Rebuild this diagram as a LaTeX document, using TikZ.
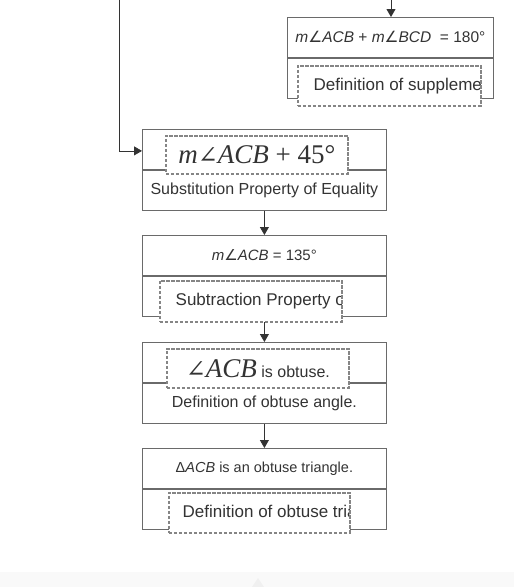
\documentclass[tikz,border=0pt]{standalone}
\usepackage{fontspec}
\setmainfont{Liberation Sans}
\newfontfamily\timesfont{Liberation Serif}
\newfontfamily\anglesans{DejaVu Sans}
\newfontfamily\angleserif{DejaVu Serif}
\usetikzlibrary{arrows.meta,positioning}

\definecolor{boxgray}{HTML}{6A6A6A}
\definecolor{txtgray}{HTML}{333333}
\definecolor{dashgray}{HTML}{858585}

\tikzset{
  row/.style = {draw=boxgray, line width=0.8pt, rectangle, inner sep=0pt,
    minimum width=244pt, minimum height=40pt, text=txtgray, align=center},
  stmt/.style = {row, anchor=north west, font=\fontsize{14.5}{17}\selectfont},
  reason/.style = {row, below=0pt of #1, font=\fontsize{16}{19}\selectfont},
  hole/.style = {draw=dashgray, line width=1.7pt, dash pattern=on 3.5pt off 1.5pt,
    fill=white, inner sep=0pt, anchor=north west, text=txtgray, align=center},
  holetext/.style = {draw=none, fill=none, solid, anchor=west, inner sep=0pt,
    minimum size=0pt, text=txtgray, font=\fontsize{17}{20}\selectfont},
  cut/.style = {path picture={\node[holetext] at ([xshift=#1]path picture bounding box.west) {\cuttext};}},
  link/.style = {draw=txtgray, line width=0.8pt, -{Triangle[length=8pt,width=9pt]}}
}
\newcommand{\cuttext}{}
\newcommand{\ang}{{\anglesans\upshape ∠}}
\newcommand{\bigserif}[1]{{\timesfont\fontsize{27}{30}\selectfont #1}}
\newcommand{\bigang}{{\angleserif\upshape\fontsize{24}{30}\selectfont ∠}}

\begin{document}
\begin{tikzpicture}[x=1pt,y=-1pt]
\useasboundingbox (0,0) rectangle (514,587);
\fill[gray!5] (0,572) rectangle (514,587);
\fill[gray!12] (252,587) -- (258,578) -- (264,587) -- cycle;

% proof steps
\node[stmt, minimum width=206pt, font=\fontsize{15.5}{18}\selectfont] (supp1) at (287,17)
  {\itshape m\ang ACB\upshape{} + \itshape m\ang BCD\upshape{}\ \ = 180°};
\node[reason=supp1, minimum width=206pt] (supp2) {};
\node[stmt] (subst1) at (142,129) {};
\node[reason=subst1] (subst2) {Substitution Property of Equality};
\node[stmt, font=\fontsize{15}{18}\selectfont] (diff1) at (142,235) {\itshape m\ang ACB\upshape{} = 135°};
\node[reason=diff1] (diff2) {};
\node[stmt] (obt1) at (142,342) {};
\node[reason=obt1] (obt2) {Definition of obtuse angle.};
\node[stmt] (tri1) at (142,448) {Δ\itshape ACB\upshape{} is an obtuse triangle.};
\node[reason=tri1] (tri2) {};

% arrows
\coordinate (fromtop) at (391,0);
\coordinate (fromleft) at (119,0);
\draw[link] (fromtop) -- (fromtop |- supp1.north);
\draw[link] (fromleft) |- ([yshift=-1.5pt]subst1.west);
\draw[link] (subst2.south) -- (diff1.north);
\draw[link] (diff2.south) -- (obt1.north);
\draw[link] (obt2.south) -- (tri1.north);

% dashed answer boxes
\renewcommand{\cuttext}{Definition of supplementary angles}
\node[hole, cut=15pt, minimum width=183pt, minimum height=40pt] (suppans) at (297,65) {};
\node[hole, minimum width=182pt, minimum height=38pt] (substans) at (165,135)
  {\bigserif{\itshape m\bigang ACB\upshape{} + 45°}};
\renewcommand{\cuttext}{Subtraction Property of Equality}
\node[hole, cut=15pt, minimum width=182pt, minimum height=41pt] (diffans) at (159,280) {};
\node[hole, minimum width=182pt, minimum height=39pt] (obtans) at (166,348)
  {\bigserif{\bigang\itshape ACB}\fontsize{16}{19}\selectfont{} is obtuse.};
\renewcommand{\cuttext}{Definition of obtuse triangle}
\node[hole, cut=13pt, minimum width=181pt, minimum height=40pt] (trians) at (168,492) {};
\end{tikzpicture}
\end{document}
